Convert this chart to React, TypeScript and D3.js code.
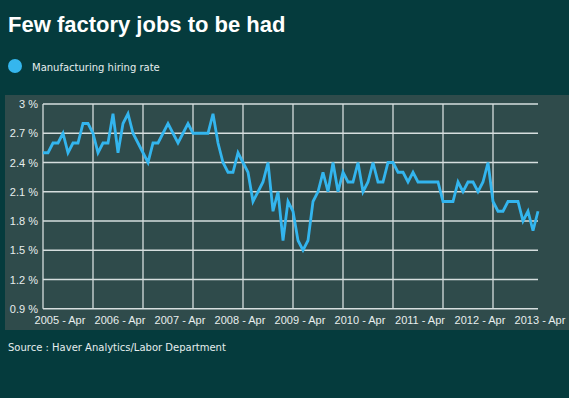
import { useEffect, useRef } from 'react';
import * as d3 from 'd3';

// monthly manufacturing hiring rate, 2005-Jan .. 2013-Apr
const hiringRate = [
  2.5, 2.5, 2.6, 2.6, 2.7, 2.5, 2.6, 2.6, 2.8, 2.8,
  2.7, 2.5, 2.6, 2.6, 2.9, 2.5, 2.8, 2.9, 2.7, 2.6,
  2.5, 2.4, 2.6, 2.6, 2.7, 2.8, 2.7, 2.6, 2.7, 2.8,
  2.7, 2.7, 2.7, 2.7, 2.9, 2.6, 2.4, 2.3, 2.3, 2.5,
  2.4, 2.3, 2.0, 2.1, 2.2, 2.4, 1.9, 2.1, 1.6, 2.0,
  1.9, 1.6, 1.5, 1.6, 2.0, 2.1, 2.3, 2.1, 2.4, 2.1,
  2.3, 2.2, 2.2, 2.4, 2.1, 2.2, 2.4, 2.2, 2.2, 2.4,
  2.4, 2.3, 2.3, 2.2, 2.3, 2.2, 2.2, 2.2, 2.2, 2.2,
  2.0, 2.0, 2.0, 2.2, 2.1, 2.2, 2.2, 2.1, 2.2, 2.4,
  2.0, 1.9, 1.9, 2.0, 2.0, 2.0, 1.8, 1.9, 1.7, 1.9,
];

const xLabels = [
  '2005 - Apr', '2006 - Apr', '2007 - Apr', '2008 - Apr', '2009 - Apr',
  '2010 - Apr', '2011 - Apr', '2012 - Apr', '2013 - Apr',
];
const yTicks = [0.9, 1.2, 1.5, 1.8, 2.1, 2.4, 2.7, 3];

const App = () => {
  const svgRef = useRef(null);

  useEffect(() => {
    const svg = d3.select(svgRef.current);
    svg.selectAll('*').remove();

    const width = 569;
    const height = 398;
    const plot = { left: 43, right: 538, top: 104, bottom: 308.75 };

    svg.append('rect').attr('width', width).attr('height', height).attr('fill', '#053b3d');

    // title + legend
    svg
      .append('text')
      .attr('x', 8)
      .attr('y', 32)
      .text('Few factory jobs to be had')
      .attr('fill', '#ffffff')
      .style('font-family', 'Liberation Sans, Arial, sans-serif')
      .style('font-weight', 'bold')
      .style('font-size', '22px');

    svg.append('circle').attr('cx', 15).attr('cy', 66).attr('r', 7).attr('fill', '#35b6ee');
    svg
      .append('text')
      .attr('x', 32)
      .attr('y', 70.5)
      .text('Manufacturing hiring rate')
      .attr('fill', '#e6eeee')
      .style('font-family', 'DejaVu Sans, sans-serif')
      .style('font-size', '10px');

    // panel
    svg.append('rect').attr('x', 5).attr('y', 95).attr('width', 564).attr('height', 235).attr('fill', '#2f4b4b');

    const xScale = d3
      .scaleLinear()
      .domain([0, hiringRate.length - 1])
      .range([plot.left, plot.right]);

    const yScale = d3.scaleLinear().domain([0.9, 3]).range([plot.bottom, plot.top]);

    // gridlines
    const grid = svg.append('g').attr('stroke', '#d6dede').attr('stroke-width', 1.3);
    grid
      .selectAll('line.h')
      .data(yTicks)
      .enter()
      .append('line')
      .attr('x1', plot.left)
      .attr('x2', plot.right)
      .attr('y1', (d) => yScale(d))
      .attr('y2', (d) => yScale(d));
    grid
      .selectAll('line.v')
      .data(d3.range(0, hiringRate.length, 10))
      .enter()
      .append('line')
      .attr('x1', (d) => xScale(d))
      .attr('x2', (d) => xScale(d))
      .attr('y1', plot.top)
      .attr('y2', plot.bottom);

    // y labels
    svg
      .selectAll('text.ylab')
      .data(yTicks)
      .enter()
      .append('text')
      .attr('x', 38)
      .attr('y', (d) => yScale(d) + 4)
      .attr('text-anchor', 'end')
      .text((d) => `${d} %`)
      .attr('fill', '#e8eeee')
      .style('font-family', 'Liberation Sans, Arial, sans-serif')
      .style('font-size', '11px');

    // x labels at each April (index 3, 15, ...)
    svg
      .selectAll('text.xlab')
      .data(xLabels)
      .enter()
      .append('text')
      .attr('x', (_, i) => xScale(3 + i * 12) + 2)
      .attr('y', 324)
      .attr('text-anchor', 'middle')
      .text((d) => d)
      .attr('fill', '#e8eeee')
      .style('font-family', 'Liberation Sans, Arial, sans-serif')
      .style('font-size', '11px');

    const line = d3
      .line<number>()
      .x((_, i) => xScale(i))
      .y((d) => yScale(d));

    svg
      .append('path')
      .datum(hiringRate)
      .attr('d', line)
      .attr('fill', 'none')
      .attr('stroke', '#33b5ee')
      .attr('stroke-width', 2.8)
      .attr('stroke-linejoin', 'miter');

    svg
      .append('text')
      .attr('x', 8)
      .attr('y', 351)
      .text('Source : Haver Analytics/Labor Department')
      .attr('fill', '#e6eeee')
      .style('font-family', 'DejaVu Sans, sans-serif')
      .style('font-size', '10px');
  }, []);

  return (
    <svg
      ref={svgRef}
      width={569}
      height={398}
      style={{ position: 'absolute', left: 0, top: 0, display: 'block' }}
    ></svg>
  );
};

export default App;
